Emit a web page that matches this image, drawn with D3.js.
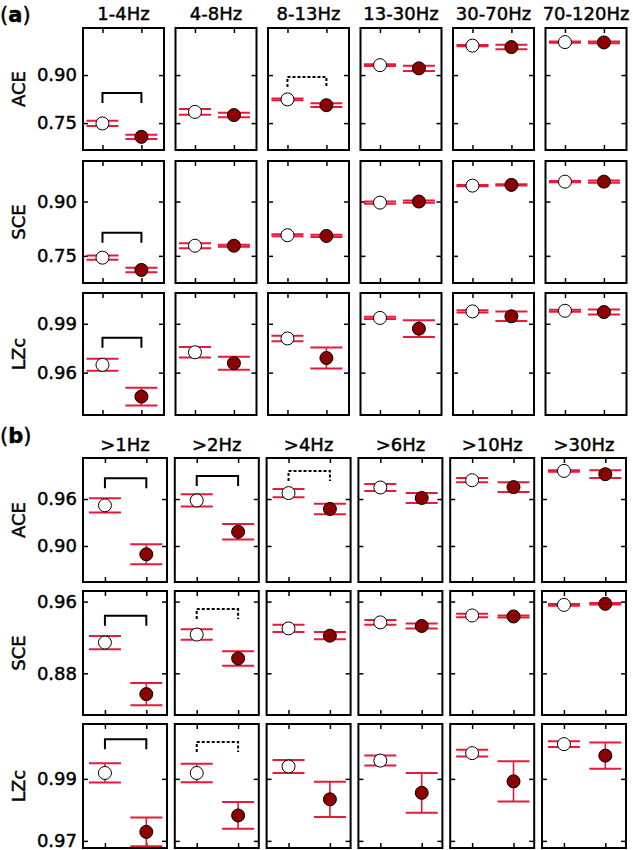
<!DOCTYPE html>
<html><head><meta charset="utf-8">
<script src="https://cdn.jsdelivr.net/npm/d3@7"></script>
<style>body{margin:0;background:#fff}svg{display:block}</style>
</head><body>
<svg id="c" width="633" height="850"></svg>
<script>
// ---------- data ----------
const measures = ["ACE", "SCE", "LZc"];
const bandsA = ["1-4Hz", "4-8Hz", "8-13Hz", "13-30Hz", "30-70Hz", "70-120Hz"];
const bandsB = [">1Hz", ">2Hz", ">4Hz", ">6Hz", ">10Hz", ">30Hz"];

// (a) open (white) and filled (dark red) group means & errors, rows = measures
const aOpen = [
  [0.749, 0.785, 0.824, 0.931, 0.992, 1.003],
  [0.745, 0.778, 0.807, 0.897, 0.944, 0.955],
  [0.9648, 0.9725, 0.981, 0.9936, 0.9976, 0.998]
];
const aOpenErr = [
  [0.008, 0.009, 0.003, 0.003, 0.002, 0.002],
  [0.006, 0.007, 0.003, 0.003, 0.002, 0.002],
  [0.0037, 0.0032, 0.0017, 0.0007, 0.0007, 0.0006]
];
const aFill = [
  [0.707, 0.775, 0.806, 0.921, 0.9875, 1.002],
  [0.711, 0.778, 0.805, 0.900, 0.946, 0.955],
  [0.9453, 0.9658, 0.969, 0.987, 0.9946, 0.9972]
];
const aFillErr = [
  [0.007, 0.007, 0.006, 0.008, 0.007, 0.003],
  [0.006, 0.003, 0.003, 0.003, 0.002, 0.003],
  [0.0055, 0.004, 0.0064, 0.0051, 0.0029, 0.0015]
];
const aSig = [
  ["solid", "", "dotted", "", "", ""],
  ["solid", "", "", "", "", ""],
  ["solid", "", "", "", "", ""]
];
const aBracket = [
  [0.844, null, 0.894, null, null, null],
  [0.814, null, null, null, null, null],
  [0.9815, null, null, null, null, null]
];
const aTicks = [[0.75, 0.90], [0.75, 0.90], [0.96, 0.99]];
const aLims = [[0.666, 1.047], [0.675, 1.012], [0.934, 1.0089]];

// (b)
const bOpen = [
  [0.9519, 0.9582, 0.9676, 0.9747, 0.984, 0.9959],
  [0.9143, 0.9232, 0.9301, 0.9368, 0.9445, 0.9563],
  [0.9919, 0.9919, 0.994, 0.9959, 0.9983, 1.0012]
];
const bOpenErr = [
  [0.0091, 0.0078, 0.0053, 0.0044, 0.0027, 0.001],
  [0.0074, 0.0059, 0.004, 0.0026, 0.002, 0.001],
  [0.0031, 0.003, 0.0021, 0.0016, 0.0011, 0.0009]
];
const bFill = [
  [0.8894, 0.9182, 0.9473, 0.9613, 0.9752, 0.9917],
  [0.8568, 0.8966, 0.922, 0.9328, 0.9434, 0.9575],
  [0.9729, 0.9782, 0.9834, 0.9855, 0.9892, 0.9975]
];
const bFillErr = [
  [0.0127, 0.0099, 0.0066, 0.0063, 0.0063, 0.0049],
  [0.0125, 0.0081, 0.004, 0.0028, 0.0012, 0.0008],
  [0.0046, 0.0043, 0.0057, 0.0064, 0.0065, 0.0042]
];
const bSig = [
  ["solid", "solid", "dotted", "", "", ""],
  ["solid", "dotted", "", "", "", ""],
  ["solid", "dotted", "", "", "", ""]
];
const bBracket = [
  [0.9866, 0.9895, 0.9959, null, null, null],
  [0.9442, 0.9516, null, null, null, null],
  [1.0028, 1.0019, null, null, null, null]
];
const bTicks = [[0.90, 0.96], [0.88, 0.96], [0.97, 0.99]];
const bLims = [[0.854, 1.0124], [0.8335, 0.9718], [0.9677, 1.0077]];

// ---------- styles ----------
const FONT = "DejaVu Sans, sans-serif";
const ERR = "#e61a3a";
const FILL = "#8b0000";
const CAP = 16, R = 6.5, TICK = 5, LEG = 10;
const TXT_STROKE = 0.45;

const svg = d3.select("#c");

function heavy(sel) {
  return sel.attr("fill", "#000").attr("stroke", "#000").attr("stroke-width", TXT_STROKE);
}

function section(o) {
  const g = svg.append("g");
  // panel label
  const lab = g.append("text").attr("x", 0).attr("y", o.labelY)
    .attr("font-family", FONT).attr("font-size", 21);
  lab.append("tspan").text("(");
  lab.append("tspan").attr("font-weight", "bold").text(o.letter);
  lab.append("tspan").text(")");
  heavy(lab);

  o.bands.forEach((b, j) => {
    const x0 = o.left0 + j * o.pitch;
    heavy(g.append("text").attr("x", x0 + o.pw / 2).attr("y", o.titleY)
      .attr("text-anchor", "middle").attr("font-family", FONT).attr("font-size", 18)
      .text(b));
  });

  measures.forEach((m, i) => {
    const top = o.tops[i];
    const y = d3.scaleLinear().domain(o.lims[i]).range([top + o.ph, top]);
    // y label
    heavy(g.append("text")
      .attr("transform", `translate(25,${top + o.ph / 2}) rotate(-90)`)
      .attr("text-anchor", "middle").attr("font-family", FONT).attr("font-size", 18)
      .text(m));

    o.bands.forEach((b, j) => {
      const x0 = o.left0 + j * o.pitch;
      const x = d3.scaleLinear().domain(o.xDom).range([x0, x0 + o.pw]);
      const p = g.append("g");

      // axes (ticks inward)
      const axL = p.append("g").attr("transform", `translate(${x0},0)`)
        .call(d3.axisLeft(y).tickValues(o.ticks[i]).tickSizeInner(-TICK).tickSizeOuter(0)
          .tickPadding(6).tickFormat(j === 0 ? d3.format(".2f") : ""));
      const axR = p.append("g").attr("transform", `translate(${x0 + o.pw},0)`)
        .call(d3.axisRight(y).tickValues(o.ticks[i]).tickSizeInner(-TICK).tickSizeOuter(0).tickFormat(""));
      const axT = p.append("g").attr("transform", `translate(0,${top})`)
        .call(d3.axisTop(x).tickValues([1, 2]).tickSizeInner(-TICK).tickSizeOuter(0).tickFormat(""));
      const axB = p.append("g").attr("transform", `translate(0,${top + o.ph})`)
        .call(d3.axisBottom(x).tickValues([1, 2]).tickSizeInner(-TICK).tickSizeOuter(0).tickFormat(""));
      [axL, axR, axT, axB].forEach(a => {
        a.select(".domain").remove();
        a.selectAll("line").attr("stroke", "#000").attr("stroke-width", 1.5);
        heavy(a.selectAll("text").attr("font-family", FONT).attr("font-size", 18));
      });

      // significance bracket
      const st = o.sig[i][j];
      if (st) {
        const yb = y(o.brk[i][j]);
        p.append("path")
          .attr("d", `M${x(1)},${yb + LEG}V${yb}H${x(2)}V${yb + LEG}`)
          .attr("fill", "none").attr("stroke", "#000").attr("stroke-width", 2)
          .attr("stroke-dasharray", st === "dotted" ? "3,2" : null);
      }

      // error bars and markers
      const series = [
        { pos: 1, mean: o.open[i][j], err: o.openErr[i][j], fill: "#fff" },
        { pos: 2, mean: o.fill[i][j], err: o.fillErr[i][j], fill: FILL }
      ];
      series.forEach(s => {
        const cx = x(s.pos);
        const yHi = y(s.mean + s.err), yLo = y(s.mean - s.err);
        p.append("line").attr("x1", cx).attr("x2", cx).attr("y1", yHi).attr("y2", yLo)
          .attr("stroke", ERR).attr("stroke-width", 1.6);
        [yHi, yLo].forEach(yy => {
          p.append("line").attr("x1", cx - CAP).attr("x2", cx + CAP).attr("y1", yy).attr("y2", yy)
            .attr("stroke", ERR).attr("stroke-width", 2);
        });
        p.append("circle").attr("cx", cx).attr("cy", y(s.mean)).attr("r", R)
          .attr("fill", s.fill).attr("stroke", "#000").attr("stroke-width", 1);
      });

      // frame
      p.append("rect").attr("x", x0).attr("y", top).attr("width", o.pw).attr("height", o.ph)
        .attr("fill", "none").attr("stroke", "#000").attr("stroke-width", 2);
    });
  });
}

section({
  letter: "a", labelY: 22, titleY: 20,
  bands: bandsA, open: aOpen, openErr: aOpenErr, fill: aFill, fillErr: aFillErr,
  sig: aSig, brk: aBracket, ticks: aTicks, lims: aLims,
  left0: 83, pitch: 92.5, pw: 81, tops: [28, 161, 293], ph: 122, xDom: [0.5, 2.58]
});
section({
  letter: "b", labelY: 443, titleY: 451,
  bands: bandsB, open: bOpen, openErr: bOpenErr, fill: bFill, fillErr: bFillErr,
  sig: bSig, brk: bBracket, ticks: bTicks, lims: bLims,
  left0: 83, pitch: 91.8, pw: 84, tops: [458, 591, 724], ph: 124, xDom: [0.47, 2.5]
});
</script>
</body></html>
